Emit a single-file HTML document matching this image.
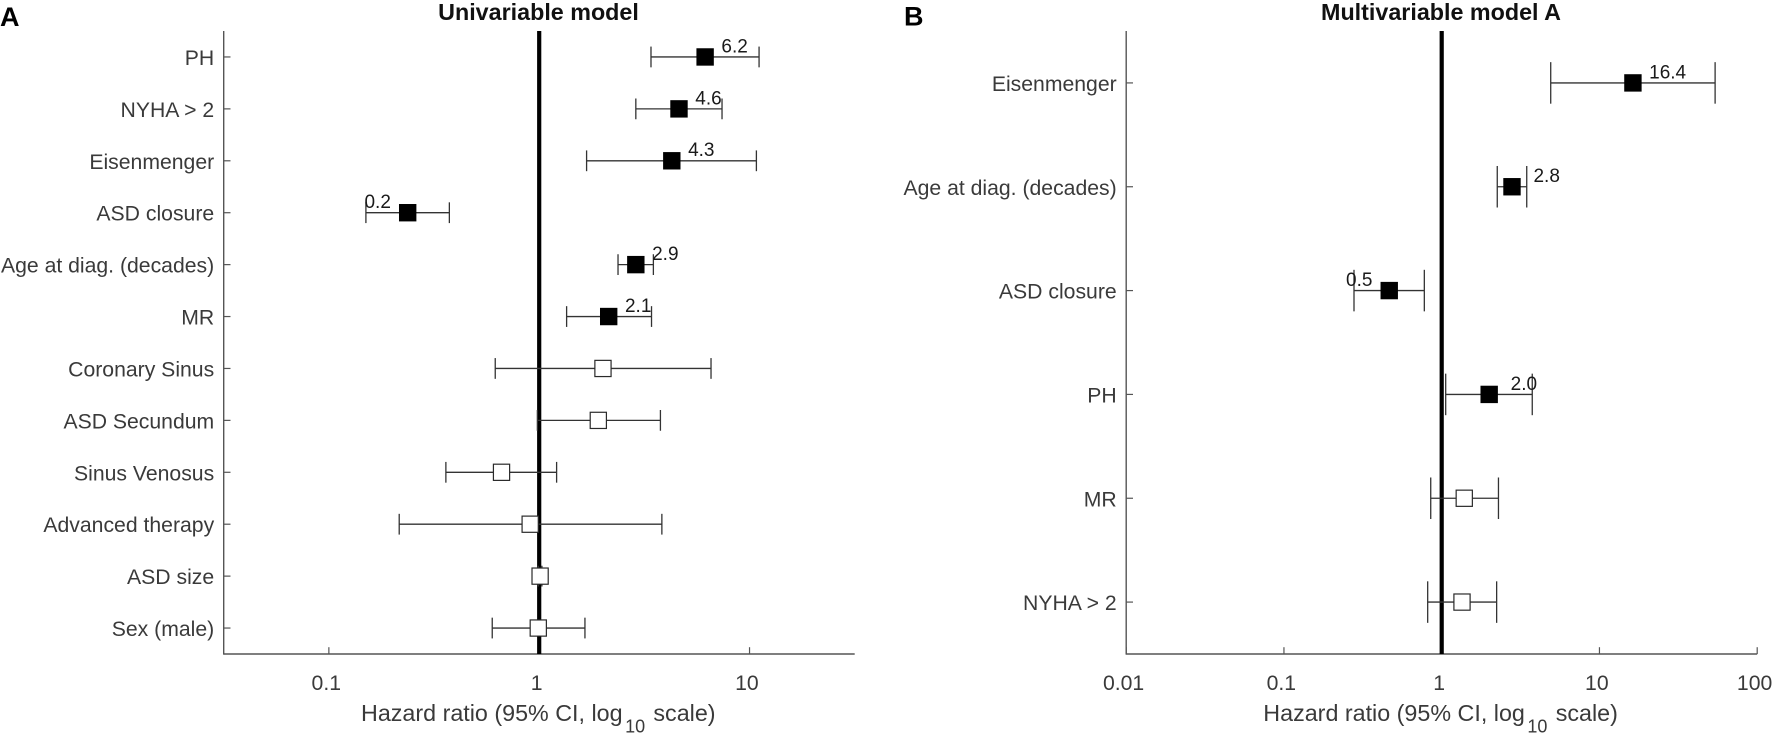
<!DOCTYPE html>
<html lang="en">
<head>
<meta charset="utf-8">
<title>Hazard ratio forest plots</title>
<style>
html,body{margin:0;padding:0;background:#fff;width:1772px;height:742px;overflow:hidden}
svg{display:block}
text{font-family:"Liberation Sans",Arial,sans-serif}
</style>
</head>
<body>
<svg id="figure" xmlns="http://www.w3.org/2000/svg" width="1772" height="742" viewBox="0 0 1772 742">
  <rect x="0" y="0" width="1772" height="742" fill="#fff"/>
  <text x="0" y="26" font-size="27" font-weight="700" fill="#000">A</text>
  <text x="904" y="25.5" font-size="27" font-weight="700" fill="#000">B</text>
  <text x="538.5" y="20" font-size="23.3" font-weight="700" fill="#111" text-anchor="middle">Univariable model</text>
  <text x="1441" y="20" font-size="23.3" font-weight="700" fill="#111" text-anchor="middle">Multivariable model A</text>
  <text x="361" y="721" font-size="23.3" fill="#3a3a3a">Hazard ratio (95% CI, log<tspan dx="2.5" dy="11.7" font-size="18">10</tspan><tspan dx="8.3" dy="-11.7">scale)</tspan></text>
  <text x="1263.3" y="721" font-size="23.3" fill="#3a3a3a">Hazard ratio (95% CI, log<tspan dx="2.5" dy="11.7" font-size="18">10</tspan><tspan dx="8.3" dy="-11.7">scale)</tspan></text>
</svg>
<script>
// Panel A data
var categoriesA = ['PH','NYHA > 2','Eisenmenger','ASD closure','Age at diag. (decades)','MR','Coronary Sinus','ASD Secundum','Sinus Venosus','Advanced therapy','ASD size','Sex (male)'];
var hazardA = [6.15,4.62,4.27,0.237,2.88,2.14,2.01,1.91,0.662,0.906,1.01,0.99];
var lowerA = [3.40,2.88,1.68,0.150,2.37,1.35,0.618,0.98,0.36,0.216,0.99,0.598];
var upperA = [11.1,7.40,10.78,0.374,3.49,3.42,6.56,3.77,1.21,3.83,1.03,1.65];
var printedA = ['6.2','4.6','4.3','0.2','2.9','2.1',null,null,null,null,null,null];
var xTicksA = [0.1,1,10];
var xTickLabelsA = ['0.1','1','10'];

// Panel B data
var categoriesB = ['Eisenmenger','Age at diag. (decades)','ASD closure','PH','MR','NYHA > 2'];
var hazardB = [16.3,2.79,0.465,2.0,1.39,1.345];
var lowerB = [4.91,2.25,0.278,1.06,0.852,0.815];
var upperB = [54.1,3.46,0.776,3.75,2.29,2.23];
var printedB = ['16.4','2.8','0.5','2.0',null,null];
var xTicksB = [0.01,0.1,1,10,100];
var xTickLabelsB = ['0.01','0.1','1','10','100'];

var svgNS = 'http://www.w3.org/2000/svg';
var figure = document.getElementById('figure');

function make(parent, tag, attrs, content) {
  var el = document.createElementNS(svgNS, tag);
  for (var k in attrs) el.setAttribute(k, attrs[k]);
  if (content !== undefined) el.textContent = content;
  parent.appendChild(el);
  return el;
}

function drawPanel(prefix, layout, categories, hazard, lower, upper, printed, xTicks, xTickLabels) {
  var logMin = Math.log10(layout.xMin);
  var logMax = Math.log10(layout.xMax);
  function xScale(v) {
    return layout.left + (Math.log10(v) - logMin) / (logMax - logMin) * (layout.right - layout.left);
  }
  function yScale(i) {
    return layout.top + (i + 0.5) / categories.length * (layout.bottom - layout.top);
  }
  var capHalf = 0.2 * (layout.bottom - layout.top) / categories.length;
  var axisColor = '#555';
  var lineColor = '#333';
  var labelColor = '#3a3a3a';

  var group = make(figure, 'g', {});
  
  

  var yAxis = make(group, 'line', {x1: layout.left, x2: layout.left, y1: layout.top, y2: layout.bottom + 0.6, stroke: axisColor, 'stroke-width': 1.4});
  
  

  var xAxis = make(group, 'line', {x1: layout.left, x2: layout.right, y1: layout.bottom, y2: layout.bottom, stroke: axisColor, 'stroke-width': 1.4});
  
  

  categories.forEach(function (name, i) {
    var y = yScale(i);
    var tick = make(group, 'line', {x1: layout.left, x2: layout.left + 6.8, y1: y, y2: y, stroke: axisColor, 'stroke-width': 1.2});
    
    
    var label = make(group, 'text', {x: layout.left - 9.5, y: y + 8, 'font-size': 21.2, fill: labelColor, 'text-anchor': 'end'}, name);
    
    
  });

  xTicks.forEach(function (v, i) {
    var x = xScale(v);
    var tick = make(group, 'line', {x1: x, x2: x, y1: layout.bottom, y2: layout.bottom - 6.8, stroke: axisColor, 'stroke-width': 1.2});
    
    
    var label = make(group, 'text', {x: x - 2.6, y: 690, 'font-size': 21.2, fill: labelColor, 'text-anchor': 'middle'}, xTickLabels[i]);
    
    
  });

  var refLine = make(group, 'line', {x1: xScale(1), x2: xScale(1), y1: layout.top, y2: layout.bottom, stroke: '#000', 'stroke-width': 4.2});
  
  

  categories.forEach(function (name, i) {
    var y = yScale(i);
    var xLo = xScale(lower[i]);
    var xHi = xScale(upper[i]);
    var xMid = xScale(hazard[i]);

    var ci = make(group, 'line', {x1: xLo, x2: xHi, y1: y, y2: y, stroke: lineColor, 'stroke-width': 1.3});
    
    

    var capLo = make(group, 'line', {x1: xLo, x2: xLo, y1: y - capHalf, y2: y + capHalf, stroke: lineColor, 'stroke-width': 1.3});
    
    

    var capHi = make(group, 'line', {x1: xHi, x2: xHi, y1: y - capHalf, y2: y + capHalf, stroke: lineColor, 'stroke-width': 1.3});
    
    

    var significant = printed[i] !== null;
    var marker = make(group, 'rect', {
      x: xMid - 8.1, y: y - 8.1, width: 16.2, height: 16.2,
      fill: significant ? '#000' : '#fff', stroke: significant ? '#000' : '#2a2a2a', 'stroke-width': 1.2
    });
    
    

    if (significant) {
      var protective = hazard[i] < 1;
      var value = make(group, 'text', {
        x: protective ? xMid - 30 : xMid + layout.valueOffset, y: y - 4.6, 'font-size': 19, fill: '#1a1a1a',
        'text-anchor': 'middle'
      }, printed[i]);
      
      
    }
  });
}

drawPanel('panel-a',
  {left: 223.7, right: 854.7, top: 31, bottom: 654, xMin: Math.pow(10, -1.5), xMax: Math.pow(10, 1.5), valueOffset: 29.5},
  categoriesA, hazardA, lowerA, upperA, printedA, xTicksA, xTickLabelsA);

drawPanel('panel-b',
  {left: 1126.2, right: 1757.2, top: 31, bottom: 654, xMin: 0.01, xMax: 100, valueOffset: 34.7},
  categoriesB, hazardB, lowerB, upperB, printedB, xTicksB, xTickLabelsB);
</script>
</body>
</html>
